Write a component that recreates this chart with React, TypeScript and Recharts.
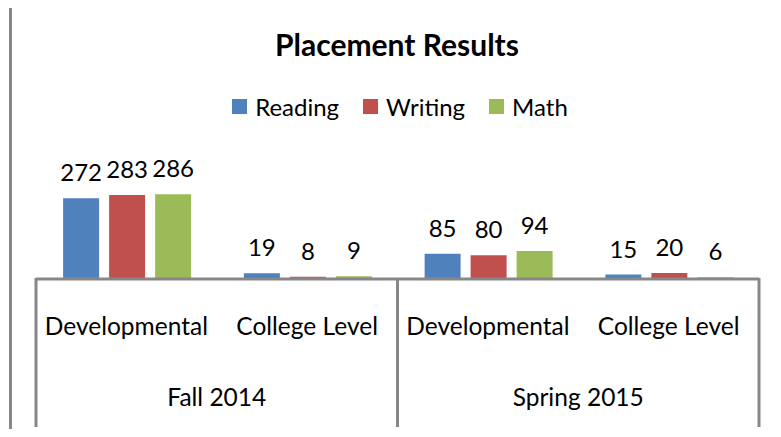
import React from "react";
import { BarChart, Bar, XAxis, YAxis, LabelList } from "recharts";

const levels = ["Developmental", "College Level", "Developmental", "College Level"];
const terms = ["Fall 2014", "Fall 2014", "Spring 2015", "Spring 2015"];
const reading = [272, 19, 85, 15];
const writing = [283, 8, 80, 20];
const math = [286, 9, 94, 6];

const series = [
  { key: "reading", name: "Reading", color: "#4F81BD" },
  { key: "writing", name: "Writing", color: "#C0504D" },
  { key: "math", name: "Math", color: "#9BBB59" },
];

const data = levels.map((level, i) => ({
  level,
  term: terms[i],
  reading: reading[i],
  writing: writing[i],
  math: math[i],
}));

const FONT = "Lato, 'Open Sans', sans-serif";
const GRID = "#878787";

function LevelTick(props: any) {
  const { x, y, payload, index } = props;
  const off = payload?.offset ?? 0;
  const i = index ?? payload?.index ?? 0;
  return (
    <g>
      {i % 2 === 0 && <line x1={x - off} x2={x - off} y1={y - 1} y2={y + 148} stroke={GRID} strokeWidth={3} />}
      {i === levels.length - 1 && <line x1={x + off} x2={x + off} y1={y - 1} y2={y + 148} stroke={GRID} strokeWidth={3} />}
      <text x={x} y={y + 46} textAnchor="middle" dominantBaseline="central" fontSize={24.5} fill="#000" fontFamily={FONT}>
        {payload.value}
      </text>
      {i % 2 === 1 && (
        <text x={x - off} y={y + 117} textAnchor="middle" dominantBaseline="central" fontSize={24.5} fill="#000" fontFamily={FONT}>
          {terms[i]}
        </text>
      )}
    </g>
  );
}

function ChartLegend() {
  return (
    <div
      style={{
        position: "absolute",
        top: 92,
        left: 0,
        width: 800,
        display: "flex",
        justifyContent: "center",
        gap: 24,
        fontFamily: FONT,
        fontSize: 24,
        color: "#000",
      }}
    >
      {series.map((s) => (
        <span key={s.key} style={{ display: "flex", alignItems: "center", gap: 8 }}>
          <span style={{ width: 15, height: 15, background: s.color, display: "inline-block" }} />
          {s.name}
        </span>
      ))}
    </div>
  );
}

export default function App() {
  return (
    <div style={{ position: "relative", width: 781, height: 437, margin: -8, background: "#fff", overflow: "hidden" }}>
      <div style={{ position: "absolute", left: 9, top: 5, right: 0, height: 3, background: GRID }} />
      <div style={{ position: "absolute", left: 9, top: 5, width: 3, bottom: 0, background: GRID }} />
      <div
        style={{
          position: "absolute",
          top: 26,
          left: 0,
          width: 794,
          textAlign: "center",
          fontFamily: FONT,
          fontWeight: 700,
          fontSize: 30,
          color: "#000",
        }}
      >
        Placement Results
      </div>
      <ChartLegend />
      <BarChart
        width={781}
        height={437}
        data={data}
        margin={{ top: 190, right: 22, left: 36, bottom: 0 }}
        barCategoryGap="15%"
        barGap={10}
        style={{ position: "absolute", left: 0, top: 0 }}
      >
        <XAxis
          dataKey="level"
          height={158}
          interval={0}
          tickSize={0}
          tickMargin={0}
          tickLine={false}
          axisLine={{ stroke: GRID, strokeWidth: 3 }}
          tick={<LevelTick />}
        />
        <YAxis hide domain={[0, 300]} />
        {series.map((s) => (
          <Bar key={s.key} dataKey={s.key} name={s.name} fill={s.color} isAnimationActive={false}>
            <LabelList dataKey={s.key} position="top" offset={17} fontSize={24} fill="#000" fontFamily={FONT} />
          </Bar>
        ))}
      </BarChart>
    </div>
  );
}
